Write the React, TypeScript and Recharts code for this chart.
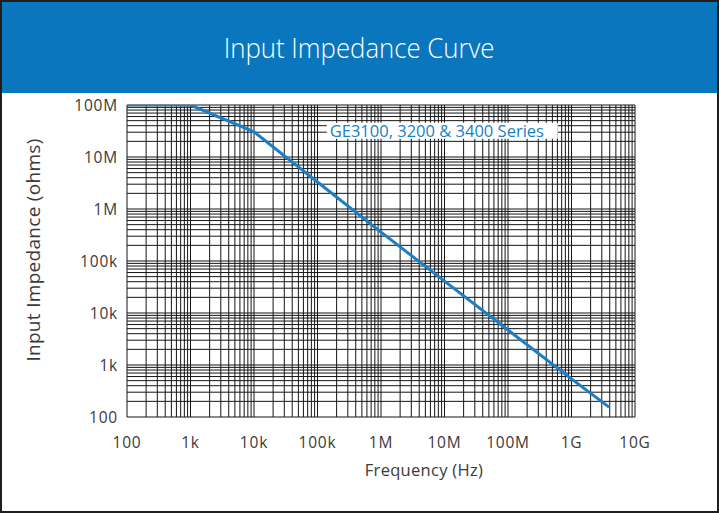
import React from 'react';
import { LineChart, Line, XAxis, YAxis, ReferenceLine, ReferenceDot, Label } from 'recharts';

// Axis ticks (frequency in Hz, impedance in ohms)
const freqTicks = [1e2, 1e3, 1e4, 1e5, 1e6, 1e7, 1e8, 1e9, 1e10];
const freqTickLabels = ['100', '1k', '10k', '100k', '1M', '10M', '100M', '1G', '10G'];
const impTicks = [1e2, 1e3, 1e4, 1e5, 1e6, 1e7, 1e8];
const impTickLabels = ['100', '1k', '10k', '100k', '1M', '10M', '100M'];

// Log-paper grid multipliers inside each decade
const gridMultipliers = [1, 2, 3, 4, 5, 6, 7, 8, 9];

// Series: GE3100, 3200 & 3400 Series
const frequencies = [1e2, 1e3, 1e4, 1e5, 1e6, 1e7, 1e8, 1e9, 3.9e9];
const impedance = [1e8, 1e8, 3.05e7, 3.3e6, 3.6e5, 4.1e4, 4.7e3, 5.4e2, 1.55e2];

const seriesName = 'GE3100, 3200 & 3400 Series';
const seriesLabelAt = { f: 1.4e5, z: 3.2e7 };

const data = frequencies.map((f, i) => ({ f, z: impedance[i] }));

const buildGrid = (ticks: number[]) => {
  const out: number[] = [];
  ticks.forEach((t, i) => {
    if (i === ticks.length - 1) {
      out.push(t);
    } else {
      gridMultipliers.forEach((m) => out.push(t * m));
    }
  });
  return out;
};
const xGrid = buildGrid(freqTicks);
const yGrid = buildGrid(impTicks);

const BLUE = '#0a76bd';
const LINE_BLUE = '#1a7fc6';
const GRID = '#151515';
const TEXT = '#3a3a3a';
const FONT = "'Open Sans', sans-serif";

const fmt = (ticks: number[], labels: string[]) => (v: number) => {
  const i = ticks.findIndex((t) => Math.abs(t - v) / t < 1e-6);
  return i >= 0 ? labels[i] : '';
};

const SeriesTag = (props: any) => {
  const { cx, cy } = props;
  return (
    <g>
      <rect x={cx} y={cy - 8} width={231} height={16} fill="#ffffff" />
      <text x={cx + 3} y={cy + 6} fill={LINE_BLUE} fontSize={16.5} fontFamily={FONT}>
        {seriesName}
      </text>
    </g>
  );
};

export default function App() {
  return (
    <div style={{ position: 'absolute', left: 0, top: 0, width: 719, height: 513, background: '#fff' }}>
      <div
        style={{
          position: 'absolute',
          left: 0,
          top: 0,
          width: 719,
          height: 93,
          background: BLUE,
          display: 'flex',
          alignItems: 'center',
          justifyContent: 'center',
        }}
      >
        <span
          style={{
            color: '#fff',
            fontFamily: FONT,
            fontWeight: 300,
            fontSize: 28,
            display: 'inline-block',
            transform: 'scaleX(0.92)',
            whiteSpace: 'nowrap',
          }}
        >
          Input Impedance Curve
        </span>
      </div>
      <div style={{ position: 'absolute', left: 0, top: 93 }}>
        <LineChart width={719} height={420} data={data} margin={{ top: 12, right: 84, left: 0, bottom: 0 }}>
          <XAxis
            dataKey="f"
            type="number"
            scale="log"
            domain={[1e2, 1e10]}
            allowDataOverflow
            ticks={freqTicks}
            tickFormatter={fmt(freqTicks, freqTickLabels)}
            axisLine={false}
            tickLine={false}
            tickSize={0}
            tickMargin={20}
            height={96}
            interval={0}
            tick={{ fill: TEXT, fontSize: 15.5, fontFamily: FONT, letterSpacing: 0.8 }}
          >
            <Label
              content={(p: any) => {
                const vb = p.viewBox;
                return (
                  <text
                    x={vb.x + vb.width / 2 + 43}
                    y={vb.y + 59}
                    textAnchor="middle"
                    fill={TEXT}
                    fontSize={16.5}
                    fontFamily={FONT}
                    letterSpacing={0.3}
                  >
                    Frequency (Hz)
                  </text>
                );
              }}
            />
          </XAxis>
          <YAxis
            dataKey="z"
            type="number"
            scale="log"
            domain={[1e2, 1e8]}
            allowDataOverflow
            ticks={impTicks}
            tickFormatter={fmt(impTicks, impTickLabels)}
            axisLine={false}
            tickLine={false}
            tickSize={0}
            tickMargin={9}
            width={127}
            interval={0}
            tick={{ fill: TEXT, fontSize: 15.5, fontFamily: FONT, letterSpacing: 0.8 }}
          >
            <Label
              content={(p: any) => {
                const vb = p.viewBox;
                const cx = vb.x + 33;
                const cy = vb.y + vb.height / 2 - 11;
                return (
                  <text
                    x={cx}
                    y={cy}
                    transform={`rotate(-90, ${cx}, ${cy})`}
                    textAnchor="middle"
                    dominantBaseline="central"
                    fill={TEXT}
                    fontSize={19}
                    fontFamily={FONT}
                    letterSpacing={0.3}
                  >
                    Input Impedance (ohms)
                  </text>
                );
              }}
            />
          </YAxis>
          {xGrid.map((v) => (
            <ReferenceLine key={'x' + v} x={v} stroke={GRID} strokeWidth={1} />
          ))}
          {yGrid.map((v) => (
            <ReferenceLine key={'y' + v} y={v} stroke={GRID} strokeWidth={1} />
          ))}
          <ReferenceDot x={seriesLabelAt.f} y={seriesLabelAt.z} shape={SeriesTag} />
          <Line
            dataKey="z"
            type="linear"
            stroke={LINE_BLUE}
            strokeWidth={3}
            dot={false}
            isAnimationActive={false}
          />
        </LineChart>
      </div>
      <div
        style={{
          position: 'absolute',
          left: 0,
          top: 0,
          width: 719,
          height: 513,
          boxSizing: 'border-box',
          border: '2px solid #1e1e1e',
          pointerEvents: 'none',
        }}
      />
    </div>
  );
}
